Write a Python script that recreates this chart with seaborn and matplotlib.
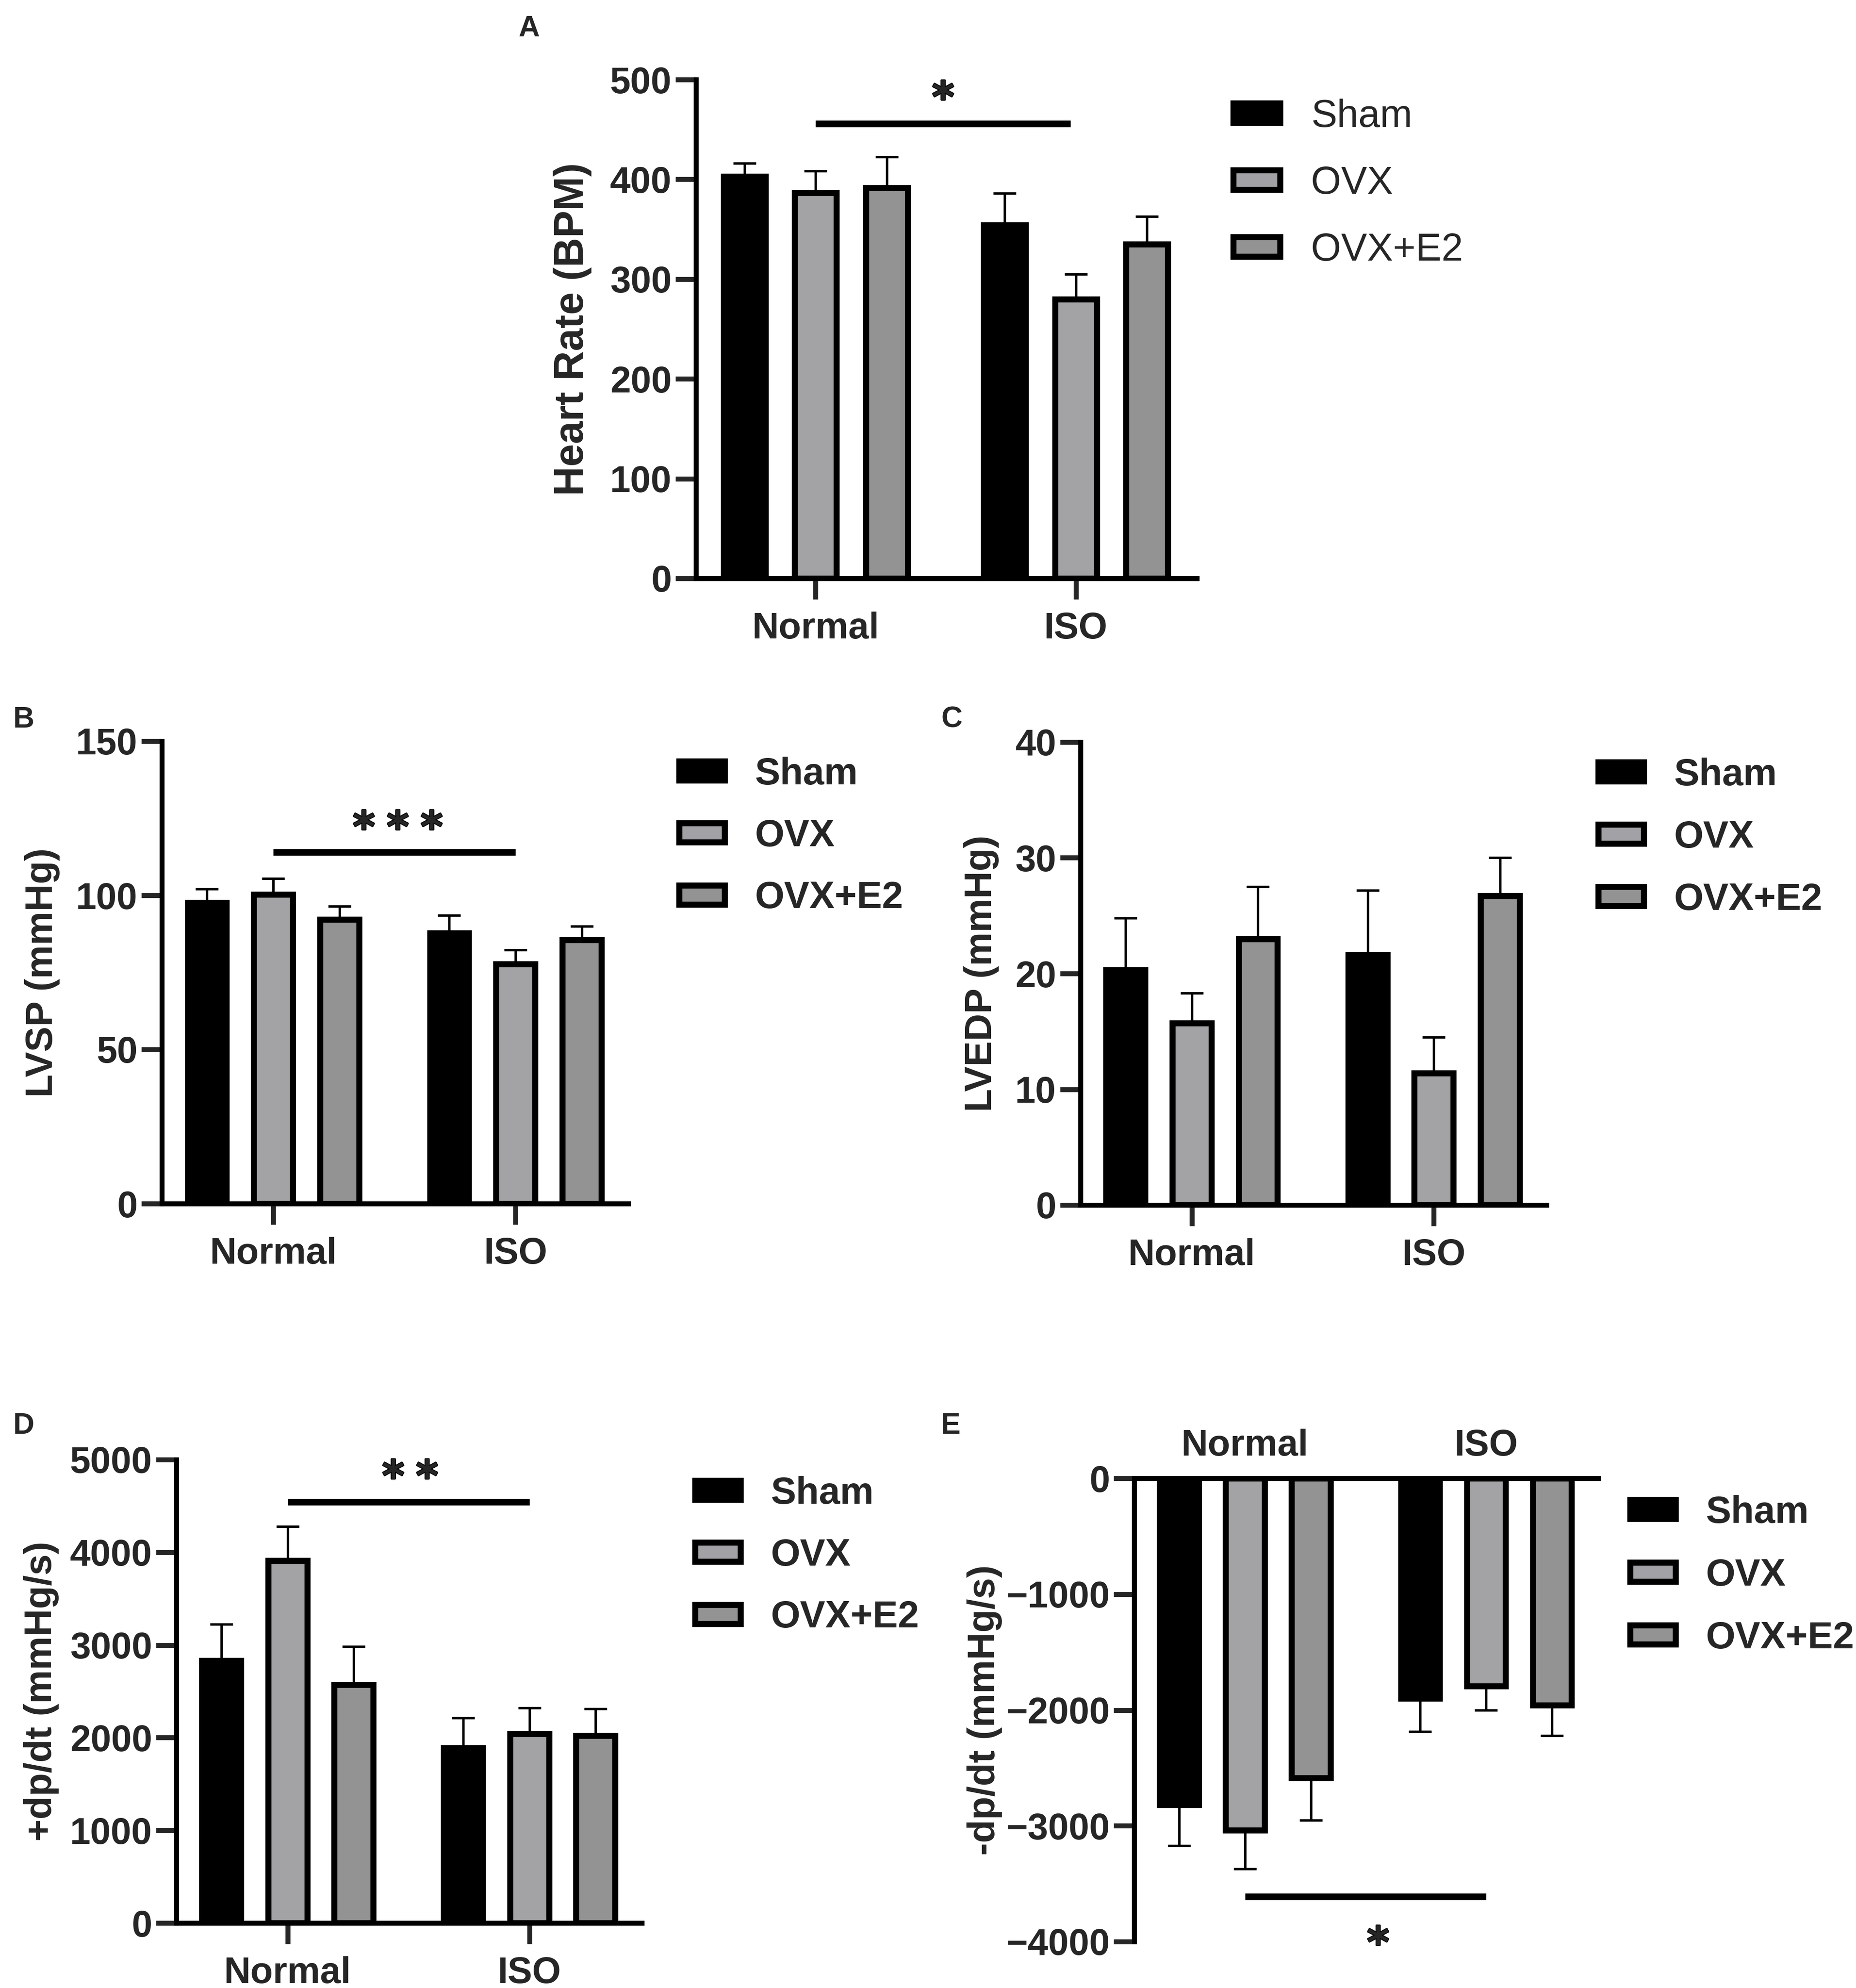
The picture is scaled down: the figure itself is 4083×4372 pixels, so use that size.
import numpy as np
import pandas as pd
import matplotlib
matplotlib.use("Agg")
import matplotlib.pyplot as plt
import matplotlib.transforms as mtransforms
import matplotlib.patheffects as pe
from matplotlib.patches import Patch
from matplotlib.textpath import TextPath
from matplotlib.font_manager import FontProperties
import seaborn as sns

# ---------------- data ----------------
groups = ["Normal", "ISO"]
treatments = ["Sham", "OVX", "OVX+E2"]

# A: Heart rate (BPM)
hr_sham = [403, 354]
hr_ovx = [386.5, 280]
hr_e2 = [391.5, 335]
hr_sham_err = [13, 32]
hr_ovx_err = [22, 25]
hr_e2_err = [31, 28]
hr_ticks = [0, 100, 200, 300, 400, 500]

# B: LVSP (mmHg)
lvsp_sham = [97.6, 87.8]
lvsp_ovx = [100.3, 77.8]
lvsp_e2 = [92.2, 85.5]
lvsp_sham_err = [4.4, 5.7]
lvsp_ovx_err = [5.2, 4.5]
lvsp_e2_err = [4.2, 4.5]
lvsp_ticks = [0, 50, 100, 150]

# C: LVEDP (mmHg)
lvedp_sham = [20.3, 21.6]
lvedp_ovx = [15.7, 11.4]
lvedp_e2 = [23.0, 26.7]
lvedp_sham_err = [4.5, 5.6]
lvedp_ovx_err = [2.6, 3.1]
lvedp_e2_err = [4.5, 3.3]
lvedp_ticks = [0, 10, 20, 30, 40]

# D: +dp/dt (mmHg/s)
pdp_sham = [2830, 1890]
pdp_ovx = [3910, 2040]
pdp_e2 = [2570, 2020]
pdp_sham_err = [393, 325]
pdp_ovx_err = [369, 282]
pdp_e2_err = [413, 293]
pdp_ticks = [0, 1000, 2000, 3000, 4000, 5000]

# E: -dp/dt (mmHg/s)
ndp_sham = [-2820, -1900]
ndp_ovx = [-3040, -1795]
ndp_e2 = [-2585, -1960]
ndp_sham_err = [353, 287]
ndp_ovx_err = [331, 207]
ndp_e2_err = [366, 263]
ndp_ticks = [0, -1000, -2000, -3000, -4000]

# significance marks: (line x start, line x end, line value, star x, star value, n stars)
sig_A = (0, 0.98, 456, 0.49, 489.5, 1)
sig_B = (0, 1.0, 114, 0.514, 124.5, 3)
sig_D = (0, 1.0, 4545, 0.507, 4900, 2)
sig_E = (0, 1.0, -3613, 0.552, -3945, 1)

colors = {"Sham": "#000000", "OVX": "#a2a2a6", "OVX+E2": "#939393"}

# ---------------- style ----------------
sns.set_style("ticks")
plt.rcParams["font.family"] = ["Liberation Sans", "DejaVu Sans"]
plt.rcParams["font.weight"] = "bold"
plt.rcParams["axes.labelweight"] = "bold"

W, H = 4083, 4372
BAR_LW = 3.2
SPINE_LW = 2.6
TICK_FS = 19.5

# asterisk glyph: size it so its ink is ~45 px wide, centre it on its ink
STAR_FP = FontProperties(family="DejaVu Sans", weight="bold")
_ext = TextPath((0, 0), "*", size=1, prop=STAR_FP).get_extents()
STAR_FS = (45 / 300 * 72) / _ext.width
STAR_DX = -(_ext.x0 + _ext.x1) / 2 * STAR_FS
STAR_DY = -(_ext.y0 + _ext.y1) / 2 * STAR_FS

fig = plt.figure(figsize=(W / 300, H / 300), dpi=300)
fig.patch.set_facecolor("white")


def make_df(sham, ovx, e2, sham_err, ovx_err, e2_err):
    rows = []
    for t, vals, errs in zip(treatments, (sham, ovx, e2), (sham_err, ovx_err, e2_err)):
        for g, v, e in zip(groups, vals, errs):
            rows.append({"group": g, "treatment": t, "value": v, "err": e})
    return pd.DataFrame(rows)


def panel(letter, rect_px, df, ylim, yticks, ylabel, ylabel_fs, ylabel_x, sig, letter_px,
          leg_px, leg_weight, leg_fs, leg_spacing, top=False):
    l, r, t, b = rect_px
    ax = fig.add_axes([l / W, 1 - b / H, (r - l) / W, (b - t) / H])
    sns.barplot(data=df, x="group", y="value", hue="treatment", order=groups,
                hue_order=treatments, palette=colors, width=0.82, gap=0.41,
                edgecolor="black", linewidth=BAR_LW, errorbar=None, legend=False,
                ax=ax, zorder=2)
    # error bars (one-sided, away from zero)
    for cont, trt in zip(ax.containers, treatments):
        sub = df[df.treatment == trt].set_index("group")
        for bar in cont:
            xc = bar.get_x() + bar.get_width() / 2
            g = groups[int(round(xc))]
            v = sub.loc[g, "value"]
            e = sub.loc[g, "err"]
            yerr = [[e], [0]] if v < 0 else [[0], [e]]
            ax.errorbar([xc], [v], yerr=yerr, fmt="none", ecolor="black",
                        elinewidth=1.3, capsize=6, capthick=1.3, zorder=1)
    ax.set_xlim(-0.46, 1.465)
    ax.set_ylim(*ylim)
    ax.set_yticks(yticks)
    ax.set_xlabel("")
    ax.set_ylabel(ylabel, fontsize=ylabel_fs, fontweight="bold")
    ax.yaxis.set_label_coords(ylabel_x, 0.5)
    for s in ax.spines.values():
        s.set_linewidth(SPINE_LW)
        s.set_color("black")
    ax.spines["right"].set_visible(False)
    if top:
        ax.spines["bottom"].set_visible(False)
        ax.xaxis.tick_top()
        ax.tick_params(axis="x", length=0, pad=8, labelsize=TICK_FS)
    else:
        ax.spines["top"].set_visible(False)
        ax.tick_params(axis="x", length=11, width=SPINE_LW, pad=6.5, labelsize=TICK_FS)
    ax.tick_params(axis="y", length=10.8, width=SPINE_LW, pad=2, labelsize=TICK_FS)
    for lab in ax.get_xticklabels() + ax.get_yticklabels():
        lab.set_fontweight("bold")
    # significance
    if sig is not None:
        x0, x1, ly, sx, sy, n = sig
        ax.plot([x0, x1], [ly, ly], color="black", lw=3.5, solid_capstyle="butt",
                clip_on=False, zorder=3)
        tr = mtransforms.offset_copy(ax.transData, fig=fig, x=STAR_DX, y=STAR_DY,
                                     units="points")
        for i in range(n):
            ax.text(sx + (i - (n - 1) / 2) * 0.14, sy, "*", transform=tr, ha="left",
                    va="baseline", fontsize=STAR_FS, fontproperties=STAR_FP,
                    clip_on=False,
                    path_effects=[pe.withStroke(linewidth=0.9, foreground="black")])
    # panel letter
    fig.text(letter_px[0] / W, 1 - letter_px[1] / H, letter, ha="left", va="baseline",
             fontsize=15.5, fontweight="bold")
    # legend
    handles = [Patch(facecolor=colors[tname], edgecolor="black", linewidth=BAR_LW, label=tname)
               for tname in treatments]
    ax.legend(handles=handles, loc="center left",
              bbox_to_anchor=(leg_px[0] / W, 1 - leg_px[1] / H),
              bbox_transform=fig.transFigure, frameon=False, borderpad=0,
              borderaxespad=0, handlelength=1.2, handleheight=0.4,
              handletextpad=0.8, labelspacing=leg_spacing,
              prop={"family": "Liberation Sans", "weight": leg_weight, "size": leg_fs})
    return ax


panel("A", (1531, 2633, 175, 1272),
      make_df(hr_sham, hr_ovx, hr_e2, hr_sham_err, hr_ovx_err, hr_e2_err),
      (0, 500), hr_ticks, "Heart Rate (BPM)", 21.5, -0.208, sig_A, (1140, 80),
      (2713, 404), "normal", 20.5, 0.78)

panel("B", (356, 1382, 1630, 2647),
      make_df(lvsp_sham, lvsp_ovx, lvsp_e2, lvsp_sham_err, lvsp_ovx_err, lvsp_e2_err),
      (0, 150), lvsp_ticks, "LVSP (mmHg)", 20, -0.218, sig_B, (29, 1600),
      (1494, 1839), "bold", 20, 0.7)

panel("C", (2377, 3402, 1632, 2650),
      make_df(lvedp_sham, lvedp_ovx, lvedp_e2, lvedp_sham_err, lvedp_ovx_err, lvedp_e2_err),
      (0, 40), lvedp_ticks, "LVEDP (mmHg)", 20, -0.175, None, (2070, 1600),
      (3516, 1842), "bold", 20, 0.71)

panel("D", (388, 1412, 3210, 4229),
      make_df(pdp_sham, pdp_ovx, pdp_e2, pdp_sham_err, pdp_ovx_err, pdp_e2_err),
      (0, 5000), pdp_ticks, "+dp/dt (mmHg/s)", 20, -0.252, sig_D, (29, 3153),
      (1529, 3421), "bold", 20, 0.7)

panel("E", (2495, 3516, 3251, 4270),
      make_df(ndp_sham, ndp_ovx, ndp_e2, ndp_sham_err, ndp_ovx_err, ndp_e2_err),
      (-4000, 0), ndp_ticks, "-dp/dt (mmHg/s)", 20, -0.284, sig_E, (2070, 3153),
      (3586, 3465), "bold", 20, 0.72, top=True)

fig.savefig("out.png", dpi=300, facecolor="white")
